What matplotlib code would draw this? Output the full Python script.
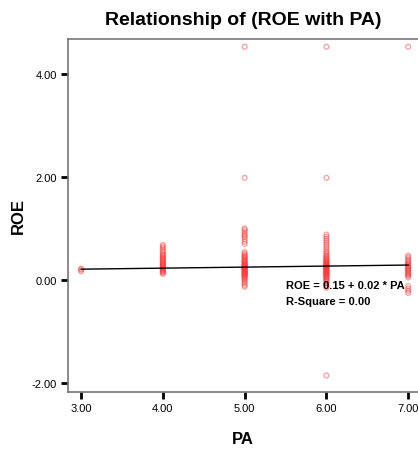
import numpy as np
import matplotlib
matplotlib.use('Agg')
import matplotlib.pyplot as plt

plt.rcParams['font.family'] = ['Liberation Sans', 'DejaVu Sans']

# ROE observations grouped by PA score
pa_levels = [3.0, 4.0, 5.0, 6.0, 7.0]
roe_pa3 = [0.17, 0.20, 0.22]
roe_pa4 = [0.12, 0.14, 0.16, 0.17, 0.19, 0.20, 0.22, 0.24, 0.25, 0.27, 0.28,
           0.30, 0.31, 0.33, 0.35, 0.36, 0.38, 0.40, 0.41, 0.43, 0.45, 0.47,
           0.49, 0.52, 0.55, 0.58, 0.62, 0.65, 0.68]
roe_pa5 = [-0.13, -0.10, -0.06, -0.03, 0.00, 0.02, 0.04, 0.06, 0.07, 0.09,
           0.10, 0.11, 0.12, 0.13, 0.14, 0.15, 0.16, 0.17, 0.18, 0.19, 0.20,
           0.21, 0.22, 0.23, 0.24, 0.25, 0.26, 0.27, 0.28, 0.29, 0.30, 0.31,
           0.32, 0.34, 0.35, 0.37, 0.38, 0.40, 0.42, 0.44, 0.46, 0.48, 0.51,
           0.54, 0.70, 0.74, 0.79, 0.83, 0.86, 0.89, 0.93, 0.97, 1.00,
           1.98, 4.52]
roe_pa6 = [-1.85, -0.15, -0.12, -0.09, -0.06, -0.03, -0.01, 0.01, 0.03, 0.05,
           0.06, 0.08, 0.09, 0.10, 0.11, 0.12, 0.13, 0.14, 0.15, 0.16, 0.17,
           0.18, 0.19, 0.20, 0.21, 0.22, 0.23, 0.24, 0.25, 0.26, 0.27, 0.28,
           0.29, 0.30, 0.31, 0.32, 0.33, 0.35, 0.36, 0.38, 0.39, 0.41, 0.43,
           0.45, 0.47, 0.50, 0.53, 0.56, 0.60, 0.64, 0.68, 0.72, 0.76, 0.80,
           0.84, 0.88, 1.98, 4.52]
roe_pa7 = [-0.25, -0.21, -0.17, -0.12, 0.05, 0.08, 0.10, 0.12, 0.14, 0.16,
           0.18, 0.20, 0.22, 0.24, 0.26, 0.28, 0.30, 0.32, 0.34, 0.37, 0.40,
           0.44, 0.47, 4.52]

# fitted line
b0, b1 = 0.15, 0.02

fig = plt.figure(figsize=(4.18, 4.52), dpi=100)
ax = fig.add_axes([68/418, 59/452, 350/418, 353/452])

for pa, vals in zip(pa_levels, [roe_pa3, roe_pa4, roe_pa5, roe_pa6, roe_pa7]):
    ax.scatter(np.full(len(vals), pa), vals, s=12, marker='o',
               facecolors='none', edgecolors='#ff3838', linewidths=0.9,
               alpha=0.5, zorder=2)

xfit = np.array([3.0, 7.0])
ax.plot(xfit, b0 + b1 * xfit, color='black', lw=1.0, zorder=3)

ax.set_xlim(2.84, 7.12)
ax.set_ylim(-2.17, 4.67)
ax.set_xticks([3, 4, 5, 6, 7])
ax.set_xticklabels(['3.00', '4.00', '5.00', '6.00', '7.00'])
ax.set_yticks([-2, 0, 2, 4])
ax.set_yticklabels(['-2.00', '0.00', '2.00', '4.00'])
ax.tick_params(direction='out', length=5, width=2, color='black',
               labelsize=8, pad=3)

for side in ['left', 'top', 'bottom']:
    ax.spines[side].set_color('#777777')
    ax.spines[side].set_linewidth(1.2)
ax.spines['right'].set_visible(False)

ax.text(5.51, -0.10, 'ROE = 0.15 + 0.02 * PA', fontsize=8, fontweight='bold',
        va='center')
ax.text(5.51, -0.40, 'R-Square = 0.00', fontsize=8, fontweight='bold',
        va='center')

ax.set_title('Relationship of (ROE with PA)', fontsize=14, fontweight='bold',
             pad=11)
ax.set_xlabel('PA', fontsize=12, fontweight='bold', labelpad=13)
ax.set_ylabel('ROE', fontsize=12, fontweight='bold', labelpad=4)

fig.savefig('out.png', dpi=100)
